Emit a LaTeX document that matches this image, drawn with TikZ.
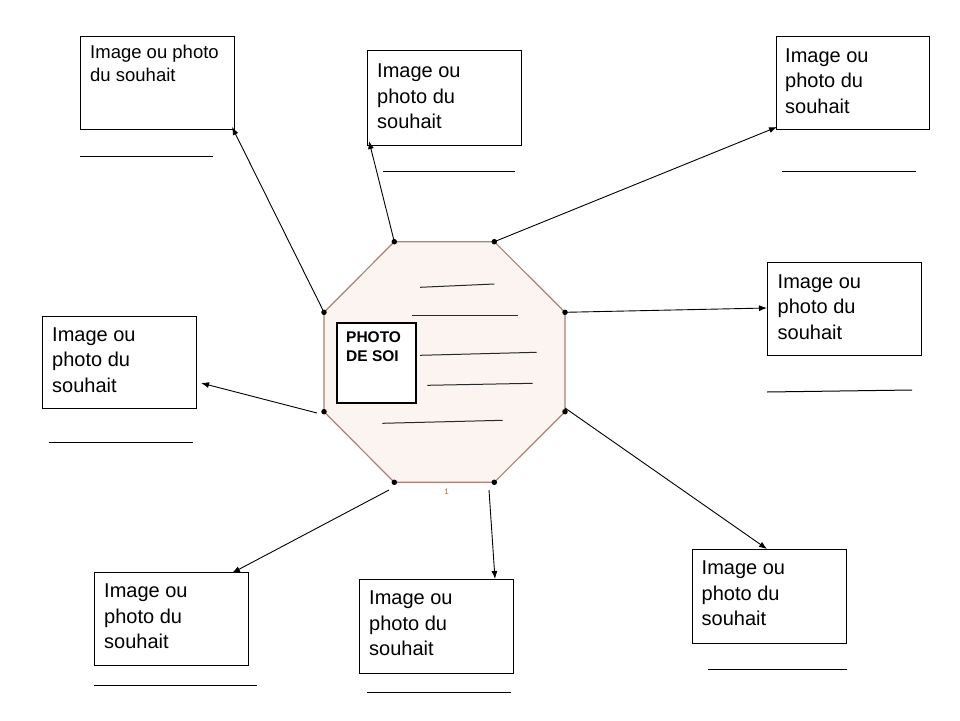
\documentclass[tikz,border=0pt]{standalone}
\usepackage{fontspec}
\setmainfont{Liberation Sans}
\usetikzlibrary{arrows.meta}
\definecolor{octfill}{RGB}{251,244,241}
\definecolor{octline}{RGB}{170,130,112}
\definecolor{onecol}{RGB}{170,110,80}
\definecolor{inkline}{RGB}{40,40,40}
\begin{document}
\begin{tikzpicture}[x=1pt,y=-1pt,
  wishbox/.style={draw=black,line width=1pt,fill=white,anchor=north west,inner sep=0pt},
  wishtext/.style={anchor=north west,inner sep=0pt,align=left,font=\fontsize{20}{25.5}\selectfont},
  wishtextsmall/.style={anchor=north west,inner sep=0pt,align=left,font=\fontsize{18.5}{23.3}\selectfont},
  uline/.style={draw=black,line width=1pt},
  inl/.style={draw=inkline,line width=1pt},
  arr/.style={draw=black,line width=0.9pt,-{Latex[length=8pt,width=6pt]}},
  vdot/.style={circle,fill=black,inner sep=0pt,minimum size=5.5pt}]
\useasboundingbox (0,0) rectangle (960,720);
\fill[white] (0,0) rectangle (960,720);

% octagon vertices
\coordinate (v1) at (394.3,241.7);
\coordinate (v2) at (494.3,241.7);
\coordinate (v3) at (565,312.3);
\coordinate (v4) at (565,411.7);
\coordinate (v5) at (494.3,482.3);
\coordinate (v6) at (394.3,482.3);
\coordinate (v7) at (324,411.7);
\coordinate (v8) at (324,312.3);
\draw[fill=octfill,draw=octline,line width=1.2pt] (v1)--(v2)--(v3)--(v4)--(v5)--(v6)--(v7)--(v8)--cycle;

% photo de soi
\node[draw=black,line width=1.2pt,fill=white,anchor=north west,inner sep=0pt,minimum width=79pt,minimum height=80pt] (soi) at (336.3,322.3) {};
\node[anchor=north west,inner sep=0pt,align=left,font=\fontsize{15.5}{19}\selectfont\bfseries] (soitxt) at (346,331.5) {PHOTO\\DE SOI};

% inner lines
\coordinate (l1a) at (420,287.3); \coordinate (l1b) at (494.3,284);
\coordinate (l2a) at (412.3,315.3); \coordinate (l2b) at (517.7,315.3);
\coordinate (l3a) at (420,355.3); \coordinate (l3b) at (536.7,352.3);
\coordinate (l4a) at (427.3,385.3); \coordinate (l4b) at (532.7,383.3);
\coordinate (l5a) at (382.3,423.3); \coordinate (l5b) at (502.7,420.3);
\draw[inl] (l1a)--(l1b);
\draw[inl] (l2a)--(l2b);
\draw[inl] (l3a)--(l3b);
\draw[inl] (l4a)--(l4b);
\draw[inl] (l5a)--(l5b);

\node[inner sep=0pt,font=\fontsize{8}{9}\selectfont,text=onecol] (one) at (446.7,491.5) {1};

% wish boxes
\node[wishbox,minimum width=154pt,minimum height=93pt] (b1) at (80,36) {};
\node[wishtextsmall] (t1) at (90,45) {Image ou photo\\du souhait};
\node[wishbox,minimum width=154pt,minimum height=95pt] (b2) at (367,50) {};
\node[wishtext] (t2) at (377,64) {Image ou\\photo du\\souhait};
\node[wishbox,minimum width=153pt,minimum height=93pt] (b3) at (776,36) {};
\node[wishtext] (t3) at (785,48.3) {Image ou\\photo du\\souhait};
\node[wishbox,minimum width=154pt,minimum height=93pt] (b4) at (767,262) {};
\node[wishtext] (t4) at (777.5,274.3) {Image ou\\photo du\\souhait};
\node[wishbox,minimum width=154pt,minimum height=92pt] (b5) at (42,316) {};
\node[wishtext] (t5) at (52,327.5) {Image ou\\photo du\\souhait};
\node[wishbox,minimum width=154pt,minimum height=93pt] (b6) at (94,572) {};
\node[wishtext] (t6) at (104,584) {Image ou\\photo du\\souhait};
\node[wishbox,minimum width=154pt,minimum height=94pt] (b7) at (359,579) {};
\node[wishtext] (t7) at (369,591) {Image ou\\photo du\\souhait};
\node[wishbox,minimum width=154pt,minimum height=94pt] (b8) at (692,549) {};
\node[wishtext] (t8) at (701.5,561) {Image ou\\photo du\\souhait};

% underlines
\coordinate (u1a) at (80,156); \coordinate (u1b) at (213,156);
\coordinate (u2a) at (383,171); \coordinate (u2b) at (515,171);
\coordinate (u3a) at (782,171); \coordinate (u3b) at (916,171);
\coordinate (u4a) at (767,392); \coordinate (u4b) at (912,390);
\coordinate (u5a) at (49,442); \coordinate (u5b) at (193,442);
\coordinate (u6a) at (94,685); \coordinate (u6b) at (257,685);
\coordinate (u7a) at (367,692); \coordinate (u7b) at (511,692);
\coordinate (u8a) at (708,669); \coordinate (u8b) at (847,669);
\foreach \i in {1,...,8} {\draw[uline] (u\i a)--(u\i b);}

% arrow end points
\coordinate (e1) at (232,127);
\coordinate (e2) at (369,141);
\coordinate (e3) at (777,127);
\coordinate (e4) at (767,308);
\coordinate (e5) at (201,383);
\coordinate (e6) at (232,573);
\coordinate (e7) at (495,579);
\coordinate (e8) at (767,549);
\coordinate (s5) at (317,413);
\coordinate (s6) at (389,490);
\coordinate (s7) at (489,490);
\coordinate (s8) at (565,408);

\draw[arr] (v8)--(e1);
\draw[arr] (v1)--(e2);
\draw[arr] (v2)--(e3);
\draw[arr] (v3)--(e4);
\draw[arr] (s5)--(e5);
\draw[arr] (s6)--(e6);
\draw[arr] (s7)--(e7);
\draw[arr] (s8)--(e8);

\foreach \i in {1,...,8} {\node[vdot] (d\i) at (v\i) {};}
\end{tikzpicture}
\end{document}
